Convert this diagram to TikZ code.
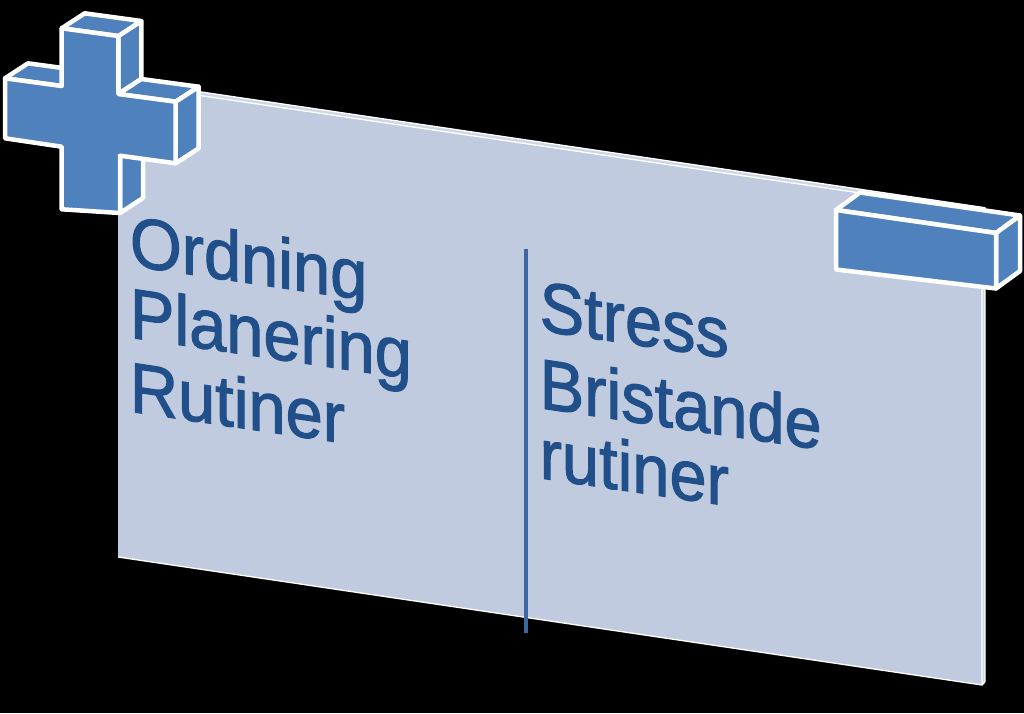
\documentclass[tikz,border=0pt]{standalone}
\usepackage{fontspec}
\setmainfont{Liberation Sans}
\newfontfamily\panelfont{Liberation Sans}[FakeBold=1.6]
\definecolor{panelc}{RGB}{192,203,223}
\definecolor{panelback}{RGB}{206,215,231}
\definecolor{boxblue}{RGB}{79,129,189}
\definecolor{txtblue}{RGB}{33,79,138}
\definecolor{divc}{RGB}{62,102,160}
\begin{document}
\begin{tikzpicture}[x=1pt,y=-1pt,
  solid3d/.style={fill=boxblue, draw=white, line width=4.5pt, line join=round},
  edgeline/.style={draw=white, line width=1.3pt},
  txt/.style={text=txtblue, font=\panelfont\fontsize{71}{71}\selectfont, inner sep=0pt, anchor=base west, transform shape}]
% background
\fill[black] (0,0) rectangle (1024,713);
\useasboundingbox (0,0) rectangle (1024,713);

% panel (glass slab)
\coordinate (pTL) at (118,83.4);
\coordinate (pTR) at (982,211);
\coordinate (pBR) at (982,685);
\coordinate (pBL) at (118,557);
\fill[panelback] ([shift={(3,-3.3)}]pTL) -- ([shift={(3,-3.3)}]pTR) -- ([shift={(3,-3.3)}]pBR) -- (pBR) -- (pTR) -- (pTL) -- cycle;
\draw[edgeline] ([shift={(3,-3.3)}]pTL) -- ([shift={(3,-3.3)}]pTR) -- ([shift={(3,-3.3)}]pBR) -- (pBR);
\fill[panelc] (pTL) -- (pTR) -- (pBR) -- (pBL) -- cycle;
\draw[edgeline] (pTL) -- (pTR) -- (pBR) -- (pBL);

% divider
\coordinate (dTop) at (526,249);
\coordinate (dBot) at (526,633);
\draw[divc, line width=3.2pt] (dTop) -- (dBot);

% left text block
\begin{scope}[shift={(129.7,265.5)}, cm={0.94,-0.139,0,1,(0,0)}]
  \node[txt] (l1) at (0,0) {Ordning};
  \node[txt] (l2) at (0,72) {Planering};
  \node[txt] (l3) at (0,146) {Rutiner};
\end{scope}

% right text block
\begin{scope}[shift={(539.5,330.5)}, cm={0.94,-0.139,0,1,(0,0)}]
  \node[txt] (r1) at (0,0) {Stress};
  \node[txt] (r2) at (0,77.5) {Bristande};
  \node[txt] (r3) at (0,147.5) {rutiner};
\end{scope}

% plus sign
\coordinate (a1) at (61.7,28.3);
\coordinate (a2) at (118.3,36);
\coordinate (a3) at (118.3,94);
\coordinate (a4) at (175.7,101.7);
\coordinate (a5) at (175.7,163.3);
\coordinate (a6) at (120,155.7);
\coordinate (a7) at (120,213);
\coordinate (a8) at (61.7,209.3);
\coordinate (a9) at (61.7,146.7);
\coordinate (a10) at (5,138.3);
\coordinate (a11) at (5,78.3);
\coordinate (a12) at (61.7,86);
% depth faces
\path[solid3d] (a2) -- (a3) -- ([shift={(23,-15)}]a3) -- ([shift={(23,-15)}]a2) -- cycle;
\path[solid3d] (a6) -- (a7) -- ([shift={(23,-15)}]a7) -- ([shift={(23,-15)}]a6) -- cycle;
\path[solid3d] (a3) -- (a4) -- ([shift={(23,-15)}]a4) -- ([shift={(23,-15)}]a3) -- cycle;
\path[solid3d] (a4) -- (a5) -- ([shift={(23,-15)}]a5) -- ([shift={(23,-15)}]a4) -- cycle;
\path[solid3d] (a11) -- (a12) -- ([shift={(23,-15)}]a12) -- ([shift={(23,-15)}]a11) -- cycle;
\path[solid3d] (a1) -- (a2) -- ([shift={(23,-15)}]a2) -- ([shift={(23,-15)}]a1) -- cycle;
% front face
\path[solid3d] (a1) -- (a2) -- (a3) -- (a4) -- (a5) -- (a6) -- (a7) -- (a8) -- (a9) -- (a10) -- (a11) -- (a12) -- cycle;

% minus bar
\coordinate (mFTL) at (836,210);
\coordinate (mFTR) at (996,233);
\coordinate (mFBR) at (996,288.5);
\coordinate (mFBL) at (836,269.5);
\coordinate (mBTL) at (860,192.5);
\coordinate (mBTR) at (1020,215.5);
\coordinate (mBBR) at (1020,271);
\path[solid3d] (mFTL) -- (mFTR) -- (mBTR) -- (mBTL) -- cycle;
\path[solid3d] (mFTR) -- (mFBR) -- (mBBR) -- (mBTR) -- cycle;
\path[solid3d] (mFTL) -- (mFTR) -- (mFBR) -- (mFBL) -- cycle;
\end{tikzpicture}
\end{document}
